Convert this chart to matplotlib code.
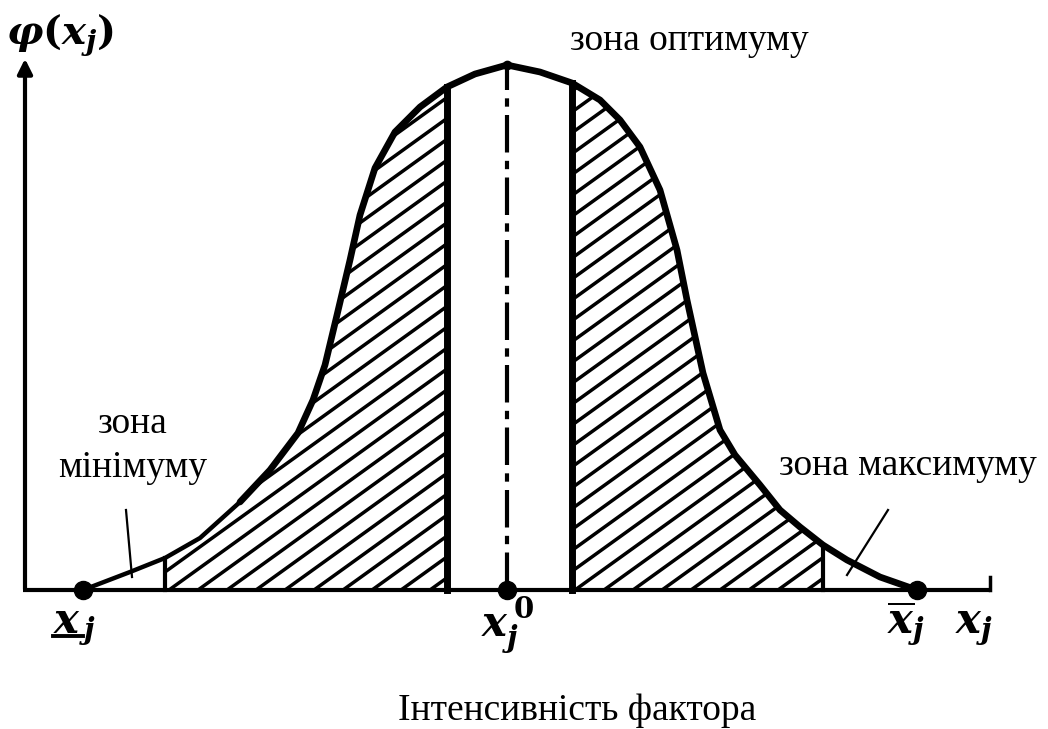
import numpy as np
import matplotlib
matplotlib.use("Agg")
import matplotlib.pyplot as plt
from matplotlib.patches import Polygon
from matplotlib.collections import LineCollection

plt.rcParams['font.family'] = ['Liberation Serif', 'DejaVu Serif']
plt.rcParams['mathtext.fontset'] = 'custom'
plt.rcParams['mathtext.it'] = 'DejaVu Serif:italic:bold'
plt.rcParams['mathtext.rm'] = 'DejaVu Serif:bold'

# bell curve phi(x_j) (origin = axes corner)
curve_x = np.array([58, 105, 140, 175, 215, 245, 273, 288, 300, 312, 325, 335, 350, 370, 395, 422,
                    450, 482, 515, 547, 575, 595, 615, 635, 652, 662, 678, 695, 710, 735,
                    755, 775, 798, 822, 855, 892])
curve_y = np.array([0, 18, 32, 52, 88, 120, 157, 190, 225, 275, 330, 375, 422, 458, 483, 503,
                    516, 525, 518, 507, 490, 470, 443, 400, 340, 290, 217, 160, 135, 105,
                    80, 63, 45, 30, 13, 0])

x_min = 58      # lower limit
x_opt = 482     # optimum
x_max = 892     # upper limit
hatch_zones = [(140, 422), (547, 798)]   # shaded zones
pointer_lines = [((101, 80), (107, 13)), ((863, 80), (822, 15))]

fig = plt.figure(figsize=(10.48, 7.29), dpi=100)
ax = fig.add_axes([0, 0, 1, 1])
ax.set_xlim(-25, 1023)
ax.set_ylim(-139, 590)
ax.axis('off')

# axes
ax.annotate('', xy=(0, 534), xytext=(0, -2),
            arrowprops=dict(arrowstyle='-|>', lw=3, color='black', mutation_scale=22))
ax.plot([-2, 965], [0, 0], color='black', lw=3, solid_capstyle='butt')
ax.plot([965, 965], [0, 13], color='black', lw=2.5)

# hatching inside the two zones
k = 0.72
for x0, x1 in hatch_zones:
    m = (curve_x >= x0) & (curve_x <= x1)
    verts = [(x0, 0)] + list(zip(curve_x[m], curve_y[m])) + [(x1, 0)]
    patch = Polygon(verts, closed=True, facecolor='none', edgecolor='none')
    ax.add_patch(patch)
    segs = []
    for c in np.arange(-900, x1 + 10, 29):
        segs.append([(c, 0), (c + 1000, 1000 * k)])
    lc = LineCollection(segs, colors='black', linewidths=2.5)
    ax.add_collection(lc)
    lc.set_clip_path(patch)
    # zone boundaries
    for xb in (x0, x1):
        yb = np.interp(xb, curve_x, curve_y)
        w = 5 if yb > 200 else 3
        ax.plot([xb, xb], [0, yb], color='black', lw=w)

# curve: thin tail on the left, heavy elsewhere
tail = curve_x <= 215
ax.plot(curve_x[tail], curve_y[tail], color='black', lw=3.2, solid_capstyle='round')
ax.plot(curve_x[curve_x >= 215], curve_y[curve_x >= 215],
        color='black', lw=4.8, solid_joinstyle='round', solid_capstyle='round')

# optimum line
ax.plot([x_opt, x_opt], [0, curve_y.max()], color='black', lw=3,
        linestyle=(0, (9, 2, 2, 2)))

# pointers
for (a, b) in pointer_lines:
    ax.plot([a[0], b[0]], [a[1], b[1]], color='black', lw=1.6)

# points
ax.plot([x_min, x_opt, x_max], [0, 0, 0], 'o', color='black', ms=13)
ax.plot([x_opt], [curve_y.max()], 'o', color='black', ms=6)

# symbols
ax.text(-19, 555, r'$\varphi(x_j)$', fontsize=29, ha='left', va='center')
ax.text(28, -42, r'$x_{\,j}$', fontsize=30, ha='left', va='baseline')
ax.plot([28, 58], [-46, -46], color='black', lw=2.8)
ax.text(456, -46, r'$x_j^{\,0}$', fontsize=30, ha='left', va='baseline')
ax.text(862, -42, r'$\overline{x}_j$', fontsize=30, ha='left', va='baseline')
ax.text(930, -42, r'$x_j$', fontsize=30, ha='left', va='baseline')

# zone labels
ax.text(545, 540, 'зона оптимуму', fontsize=27, ha='left', va='baseline')
ax.text(1012, 115, 'зона максимуму', fontsize=27, ha='right', va='baseline')
ax.text(108, 157, 'зона', fontsize=27, ha='center', va='baseline')
ax.text(108, 113, 'мінімуму', fontsize=27, ha='center', va='baseline')
ax.text(552, -130, 'Інтенсивність фактора', fontsize=27, ha='center', va='baseline')

plt.savefig('out.png', dpi=100)
